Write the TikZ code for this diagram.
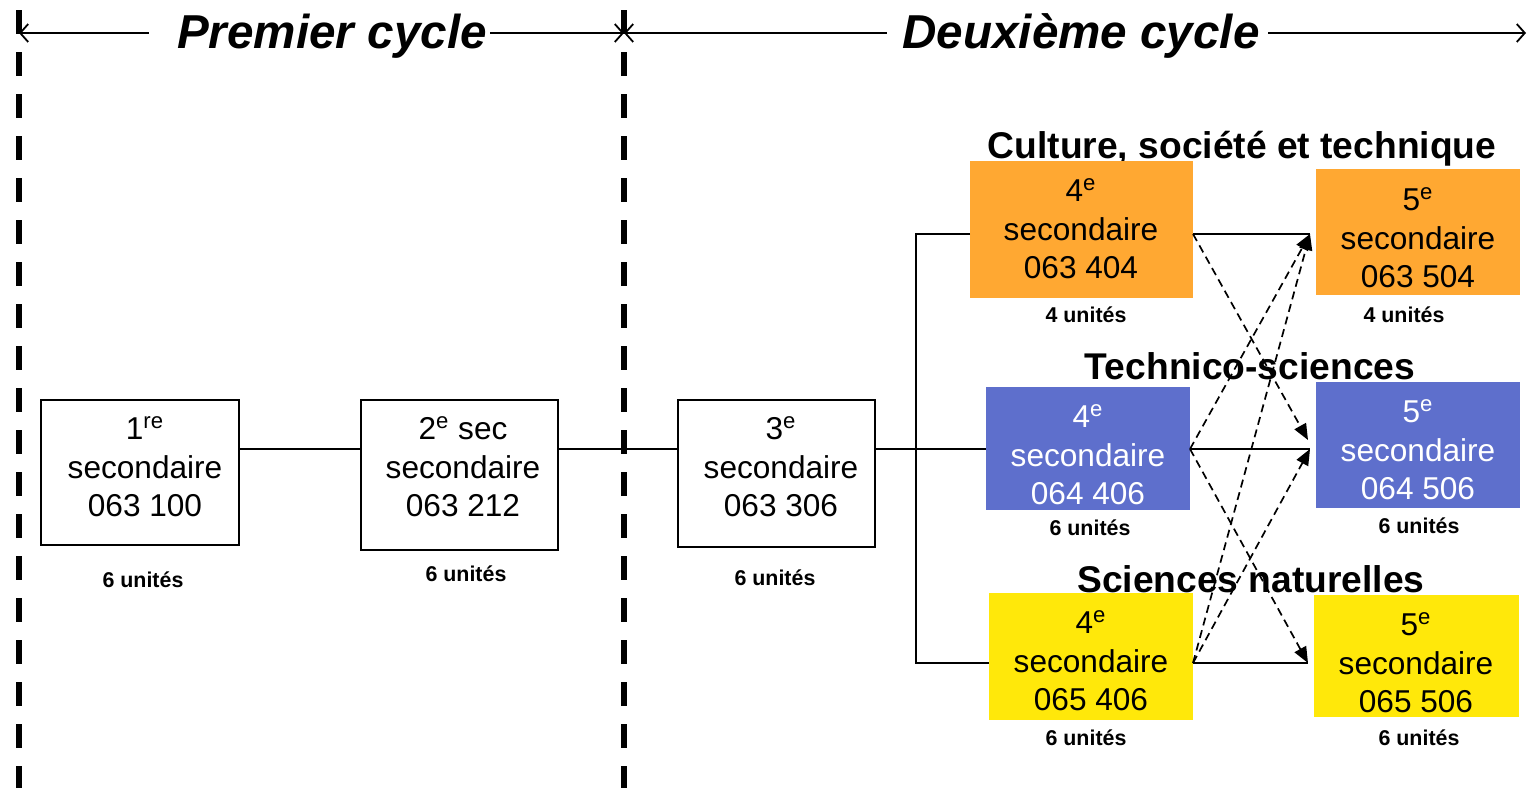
\documentclass[tikz,border=0pt]{standalone}
\usepackage{fontspec}
\setmainfont{Liberation Sans}
\usetikzlibrary{arrows.meta,calc}
\definecolor{orangeC}{RGB}{255,168,50}
\definecolor{blueC}{RGB}{94,111,204}
\definecolor{yellowC}{RGB}{255,232,10}
\begin{document}
\begin{tikzpicture}[x=0.5pt,y=-0.5pt,
  box/.style={draw=black,line width=1pt,fill=white,inner sep=0,outer sep=0},
  cbox/.style={draw=none,inner sep=0,outer sep=0},
  txt/.style={align=center,inner sep=0,font=\fontsize{15.8}{19.3}\selectfont},
  units/.style={anchor=base,inner sep=0,font=\bfseries\fontsize{10.7}{12}\selectfont},
  track/.style={anchor=base,inner sep=0,font=\bfseries\fontsize{18.6}{22}\selectfont},
  cyclehead/.style={anchor=base,inner sep=0,font=\bfseries\itshape\fontsize{23.8}{28}\selectfont},
  cyc/.style={line width=0.9pt,-{Straight Barb[length=4pt,width=9pt]}},
  sepline/.style={line width=2.8pt,dash pattern=on 11.75pt off 9.25pt},
  conn/.style={line width=1pt},
  alt/.style={line width=0.85pt,dash pattern=on 4pt off 2.5pt,-{Triangle[length=8pt,width=6.5pt]}}]
\useasboundingbox (0,0) rectangle (1528,788);

% separators
\coordinate (sa) at (19,10);
\coordinate (sb) at (19,788);
\coordinate (sc) at (624,10);
\coordinate (sd) at (624,788);
\draw[sepline] (sa) -- (sb);
\draw[sepline] (sc) -- (sd);

% cycle headers
\node[cyclehead] (h1) at (332,48) {Premier cycle};
\node[cyclehead] (h2) at (1081,48) {Deuxième cycle};
\coordinate (v1) at (19,33);
\coordinate (v2) at (624,33);
\coordinate (v3) at (1526,33);
\draw[cyc] ($(h1.west |- v1)+(-28,0)$) -- (v1);
\draw[cyc] ($(h1.east |- v1)+(3,0)$) -- (v2);
\draw[cyc] ($(h2.west |- v2)+(-15,0)$) -- (v2);
\draw[cyc] ($(h2.east |- v2)+(8,0)$) -- (v3);

% first cycle boxes
\node[box,minimum width=99pt,minimum height=72.5pt] (b1) at (140,472.5) {};
\node[box,minimum width=98.5pt,minimum height=75pt] (b2) at (459.5,475) {};
\node[box,minimum width=98.5pt,minimum height=73.5pt] (b3) at (776.5,473.5) {};
\node[txt] (b1t) at (145,467) {1\textsuperscript{re}\\secondaire\\063 100};
\node[txt] (b2t) at (463,467) {2\textsuperscript{e} sec\\secondaire\\063 212};
\node[txt] (b3t) at (781,467) {3\textsuperscript{e}\\secondaire\\063 306};
\node[units] (u1) at (143,587) {6 unités};
\node[units] (u2) at (466,581) {6 unités};
\node[units] (u3) at (775,585) {6 unités};

% track headings
\node[track] (hc) at (1242,158) {Culture, société et technique};
\node[track] (ht) at (1250,379) {Technico-sciences};
\node[track] (hs) at (1251,592) {Sciences naturelles};

% second cycle boxes
\node[cbox,fill=orangeC,minimum width=111.5pt,minimum height=68.5pt] (c4) at (1081.5,229.5) {};
\node[cbox,fill=orangeC,minimum width=102pt,minimum height=63pt] (c5) at (1418,232) {};
\node[cbox,fill=blueC,minimum width=102pt,minimum height=61.5pt] (t4) at (1088,448.5) {};
\node[cbox,fill=blueC,minimum width=102pt,minimum height=63pt] (t5) at (1418,445) {};
\node[cbox,fill=yellowC,minimum width=102pt,minimum height=63.5pt] (s4) at (1091,656.5) {};
\node[cbox,fill=yellowC,minimum width=102.5pt,minimum height=61pt] (s5) at (1416.5,656) {};

\node[txt] (c4t) at (1081,229) {4\textsuperscript{e}\\secondaire\\063 404};
\node[txt] (c5t) at (1418,238) {5\textsuperscript{e}\\secondaire\\063 504};
\node[txt,text=white] (t4t) at (1088,455) {4\textsuperscript{e}\\secondaire\\064 406};
\node[txt,text=white] (t5t) at (1418,450) {5\textsuperscript{e}\\secondaire\\064 506};
\node[txt] (s4t) at (1091,661) {4\textsuperscript{e}\\secondaire\\065 406};
\node[txt] (s5t) at (1416,663) {5\textsuperscript{e}\\secondaire\\065 506};

\node[units] (u4) at (1086,322) {4 unités};
\node[units] (u5) at (1404,322) {4 unités};
\node[units] (u6) at (1090,535) {6 unités};
\node[units] (u7) at (1419,533) {6 unités};
\node[units] (u8) at (1086,745) {6 unités};
\node[units] (u9) at (1419,745) {6 unités};

% connectors
\coordinate (m) at (0,449);
\coordinate (r1) at (0,234);
\coordinate (r2) at (0,449);
\coordinate (r3) at (0,663);
\coordinate (ja) at (916,234);
\coordinate (jb) at (916,663);
\draw[conn] (b1.east |- m) -- (b2.west |- m);
\draw[conn] (b2.east |- m) -- (b3.west |- m);
\draw[conn] (b3.east |- m) -- (t4.west |- m);
\draw[conn] (c4.west |- ja) -- (ja) -- (jb) -- (s4.west |- jb);

\coordinate (c5i) at ($(c5.west |- r1)+(-6,0)$);
\coordinate (t5a) at ($(t5.west |- r2)+(-8,-9)$);
\coordinate (t5b) at ($(t5.west |- r2)+(-6,0)$);
\coordinate (s5i) at ($(s5.west |- r3)+(-6,0)$);

\draw[conn] (c4.east |- r1) -- (c5i);
\draw[conn] (t4.east |- r2) -- (t5b);
\draw[conn] (s4.east |- r3) -- (s5i);

\draw[alt] (c4.east |- r1) -- (t5a);
\draw[alt] (t4.east |- r2) -- (c5i);
\draw[alt] (t4.east |- r2) -- (s5i);
\draw[alt] (s4.east |- r3) -- (c5i);
\draw[alt] (s4.east |- r3) -- (t5b);
\end{tikzpicture}
\end{document}
